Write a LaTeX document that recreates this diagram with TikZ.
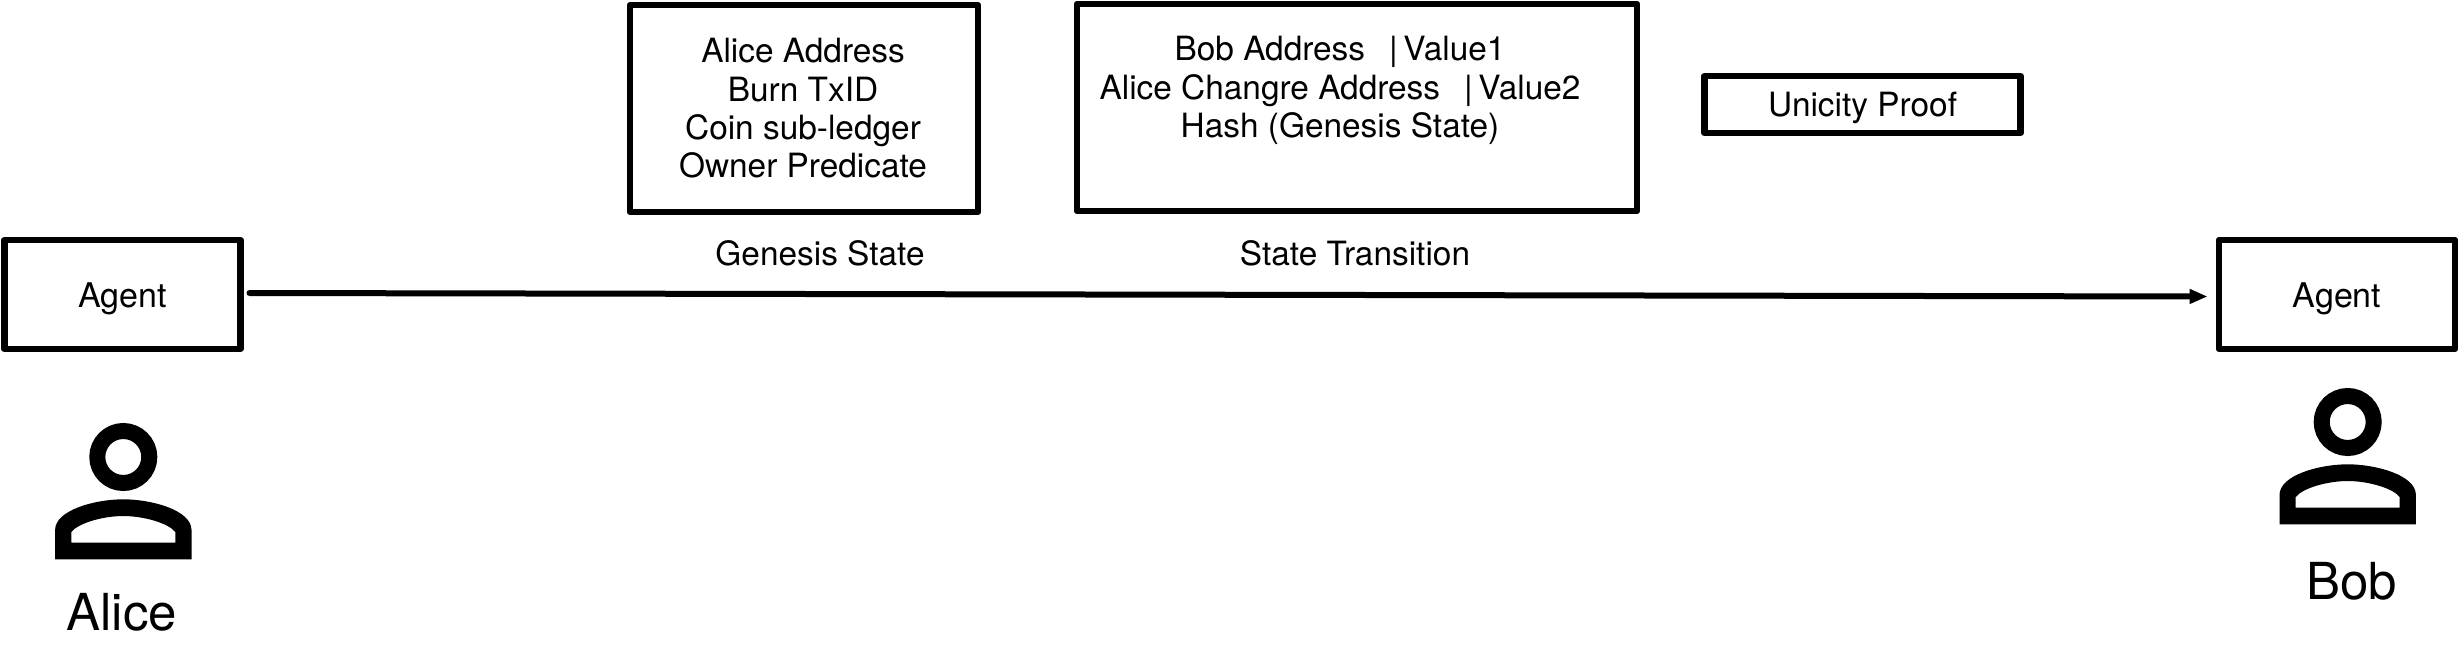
\documentclass[tikz,border=0pt]{standalone}
\usepackage{fontspec}
\setmainfont{TeX Gyre Heros}
\usetikzlibrary{arrows.meta}
\tikzset{
  x=1pt,y=-1pt,
  boxshape/.style={draw=black,line width=6.5pt,line join=round,rectangle,inner sep=0pt,outer sep=0pt,align=center},
  agentbox/.style={boxshape,minimum width=236pt,minimum height=109pt,font=\fontsize{34}{38.4}\selectfont,text height=25pt,text depth=0pt},
  boxtext/.style={align=center,inner sep=0pt,outer sep=0pt,font=\fontsize{33.4}{38.4}\selectfont},
  nametext/.style={anchor=base,inner sep=0pt,outer sep=0pt,font=\fontsize{51}{55}\selectfont},
  captiontext/.style={anchor=base,inner sep=0pt,outer sep=0pt,font=\fontsize{33.4}{38.4}\selectfont},
  flow/.style={line width=6pt,line cap=round,-{Triangle[length=18pt,width=14pt]}},
  person/.pic={
    \draw[line width=16pt,black] (0,0) circle[radius=26];
    \fill[black,even odd rule]
      (-68.2,102.3) -- (-68.2,73) .. controls (-68.2,53) and (-28,42.3) .. (0,42.3)
      .. controls (28,42.3) and (68.2,53) .. (68.2,73) -- (68.2,102.3) -- cycle
      (-52,85.7) -- (-52,75) .. controls (-45,66) and (-20,59) .. (0,59)
      .. controls (20,59) and (45,66) .. (52,75) -- (52,85.7) -- cycle;
  }
}
\begin{document}
\begin{tikzpicture}
\useasboundingbox (0,0) rectangle (2458,654);
\node[agentbox] (agentA) at (122.5,294.5) {Agent};
\node[agentbox] (agentB) at (2337,294.5) {Agent};
\node[boxshape,minimum width=348pt,minimum height=207pt] (genesis) at (804,108.5) {};
\node[boxshape,minimum width=560pt,minimum height=207pt] (transition) at (1357,107.5) {};
\node[boxshape,minimum width=316pt,minimum height=57pt,font=\fontsize{33.4}{38.4}\selectfont,text height=24.4pt,text depth=0pt] (unicity) at (1862.5,104.5) {Unicity Proof};
\node[boxtext] (genesistext) at (803,108.5) {Alice Address\\Burn TxID\\Coin sub-ledger\\Owner Predicate};
\node[boxtext] (transitiontext) at (1340,90.5) {Bob Address \ \,|\,Value1\\Alice Changre Address \ \,|\,Value2\\Hash (Genesis State)};
\node[captiontext] (genesiscap) at (820,265) {Genesis State};
\node[captiontext] (transitioncap) at (1355,265) {State Transition};
\draw[flow] ([shift={(9,-1.5)}]agentA.east) -- ([shift={(-11.5,2)}]agentB.west);
\pic at (123.3,457) {person};
\pic at (2347.7,422) {person};
\node[nametext] (alice) at (121.7,630.7) {Alice};
\node[nametext] (bob) at (2351.7,599) {Bob};
\end{tikzpicture}
\end{document}
